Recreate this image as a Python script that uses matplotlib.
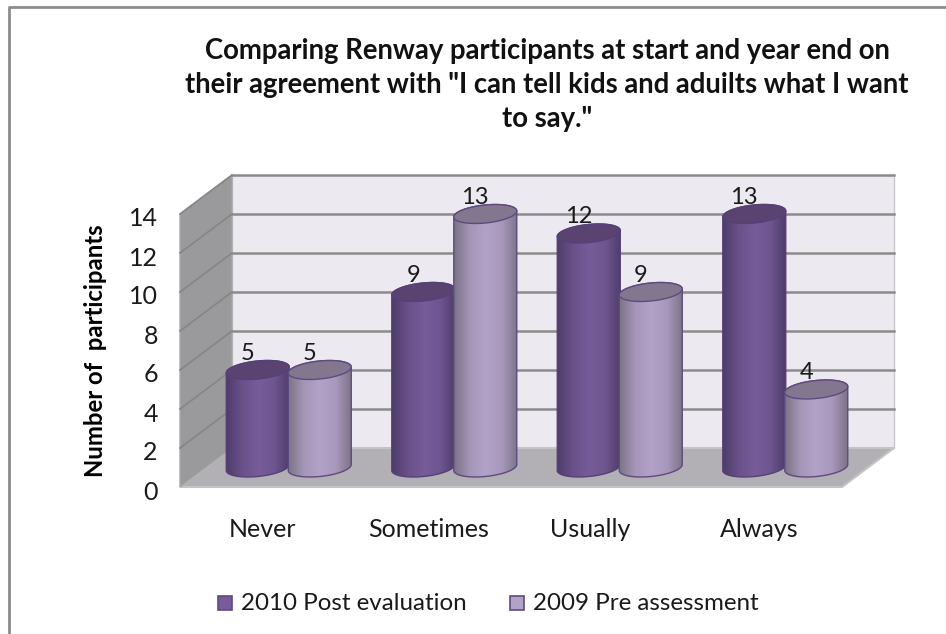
import numpy as np
import matplotlib.pyplot as plt
from matplotlib.patches import Polygon, Rectangle, PathPatch
from matplotlib.path import Path
from matplotlib.colors import LinearSegmentedColormap
from matplotlib.transforms import ScaledTranslation

categories = ['Never', 'Sometimes', 'Usually', 'Always']
post_2010 = [5, 9, 12, 13]
pre_2009 = [5, 13, 9, 4]
y_ticks = [0, 2, 4, 6, 8, 10, 12, 14]
series_names = ['2010 Post evaluation', '2009 Pre assessment']
title = ('Comparing Renway participants at start and year end on\n'
         'their agreement with "I can tell kids and aduilts what I want\n'
         'to say."')

plt.rcParams['font.family'] = ['Lato', 'DejaVu Sans']

W, H = 946, 634
fig = plt.figure(figsize=(W / 100, H / 100), dpi=100)

# rahmen: nur links und oben sichtbar
bg = fig.add_axes([0, 0, 1, 1])
bg.set_xlim(0, W)
bg.set_ylim(H, 0)
bg.axis('off')
bg.plot([9, 9, W], [H, 7, 7], color='#8c8c8c', lw=2)

# vorderkante des 3d kastens: x 180..842, y 213..487 pixel
ax = fig.add_axes([180 / W, 1 - 487 / H, 662 / W, 273 / H])
ax.set_xlim(0, 4)
ax.set_ylim(0, 14)
ax.patch.set_visible(False)
for s in ax.spines.values():
    s.set_visible(False)

px_x = 4 / 662
px_y = 14 / 273
dx = 52 * px_x   # tiefe in daten-einheiten
dy = 39 * px_y

# rueckwand, boden, linke wand
ax.add_patch(Polygon([(dx, dy), (4 + dx, dy), (4 + dx, 14 + dy), (dx, 14 + dy)],
                     fc='#eceaf0', ec='#c9c9c9', lw=1, clip_on=False, zorder=1))
ax.add_patch(Polygon([(0, 0), (4, 0), (4 + dx, dy), (dx, dy)],
                     fc='#b2b0b4', ec='#c4c4c4', lw=1.5, clip_on=False, zorder=2))
ax.add_patch(Polygon([(0, 0), (dx, dy), (dx, 14 + dy), (0, 14)],
                     fc='#9a9a9c', ec='#a8a8a8', lw=1, clip_on=False, zorder=2))

# gitterlinien auf rueck- und seitenwand
for v in y_ticks[1:]:
    ax.plot([0, dx], [v, v + dy], color='#858587', lw=1.2, clip_on=False, zorder=3)
    ax.plot([dx, 4 + dx], [v + dy, v + dy], color='#8c8c8c', lw=1.8, clip_on=False, zorder=3)

dark_cm = LinearSegmentedColormap.from_list('dark', ['#4f3c6b', '#6a5189', '#775c99', '#6f5690', '#4f3c6b'])
light_cm = LinearSegmentedColormap.from_list('light', ['#7a7486', '#a596b8', '#b3a2c8', '#a998bd', '#7a7486'])

bar_w = 63 * px_x
rx = bar_w / 2
ry = 9 * px_y
tilt = 3 * px_y
t = np.linspace(0, 2 * np.pi, 80)
ell_x = rx * np.cos(t)
ell_y = ry * np.sin(t) + tilt * np.cos(t)


def cylinder(xc, value, cmap, top_color, edge, z):
    x0 = xc + dx / 2
    y0 = dy / 2
    # koerper: unterer halbkreis + oberer halbkreis, links/rechts gerade
    low = t[(t >= np.pi) & (t <= 2 * np.pi)]
    up = t[t <= np.pi]
    bx = x0 + rx * np.cos(low)
    by = y0 + ry * np.sin(low) + tilt * np.cos(low)
    ux = x0 + rx * np.cos(up)
    uy = y0 + value + ry * np.sin(up) + tilt * np.cos(up)
    verts = np.vstack([np.c_[bx, by], np.c_[ux, uy], [[bx[0], by[0]]]])
    ax.add_patch(Polygon(verts, closed=True, fc='none', ec=edge, lw=1,
                         clip_on=False, zorder=z + 0.2))
    grad = np.linspace(0, 1, 128).reshape(1, -1)
    im = ax.imshow(grad, cmap=cmap, extent=[x0 - rx, x0 + rx, y0 - ry - tilt, y0 + value + ry + tilt],
                   aspect='auto', zorder=z, interpolation='bilinear')
    im.set_clip_box(fig.bbox)
    im.set_clip_path(PathPatch(Path(verts), transform=ax.transData))
    ax.add_patch(Polygon(np.c_[x0 + ell_x, y0 + value + ell_y], closed=True,
                         fc=top_color, ec=edge, lw=1, clip_on=False, zorder=z + 0.3))
    ax.text(x0 - 10 * px_x, y0 + value + 17 * px_y, str(value), ha='center', va='center',
            fontsize=17, color='#1a1a1a', zorder=20, clip_on=False)


offset = 31 * px_x
for i in range(len(categories)):
    z = 5 + i * 2
    cylinder(i + 0.5 - offset, post_2010[i], dark_cm, '#5a4370', '#55407a', z)
    cylinder(i + 0.5 + offset, pre_2009[i], light_cm, '#83768f', '#5f4a80', z + 1)

ax.set_xlim(0, 4)
ax.set_ylim(0, 14)
ax.set_xticks([i + 0.5 for i in range(4)])
ax.set_xticklabels(categories, fontsize=18, color='#1a1a1a')
ax.set_yticks(y_ticks)
ax.set_yticklabels([str(v) for v in y_ticks], fontsize=18, color='#1a1a1a')
ax.tick_params(axis='both', length=0)
ax.tick_params(axis='x', pad=22)
ax.tick_params(axis='y', pad=16)
for lab in ax.get_yticklabels():
    lab.set_transform(lab.get_transform() + ScaledTranslation(0, -3 / 100, fig.dpi_scale_trans))
# "Usually" sitzt im original etwas weiter links
usually = ax.get_xticklabels()[2]
usually.set_transform(usually.get_transform() + ScaledTranslation(-4 / 100, 0, fig.dpi_scale_trans))
ax.set_ylabel('Number of  participants', fontsize=17.2, fontweight='bold', labelpad=16)

bg.text(547, 85, title, ha='center', va='center', fontsize=19.8, fontweight='bold',
        linespacing=1.36, color='#111111')

# legende
for x_box, name, fc in [(218, series_names[0], '#775c99'), (510, series_names[1], '#b3a2c8')]:
    bg.add_patch(Rectangle((x_box, 596), 14, 14, fc=fc, ec='#5f4a80', lw=1.2))
    bg.text(x_box + 23, 603, name, ha='left', va='center', fontsize=17.4, color='#1a1a1a')

fig.savefig('out.png', dpi=100, facecolor='white')
